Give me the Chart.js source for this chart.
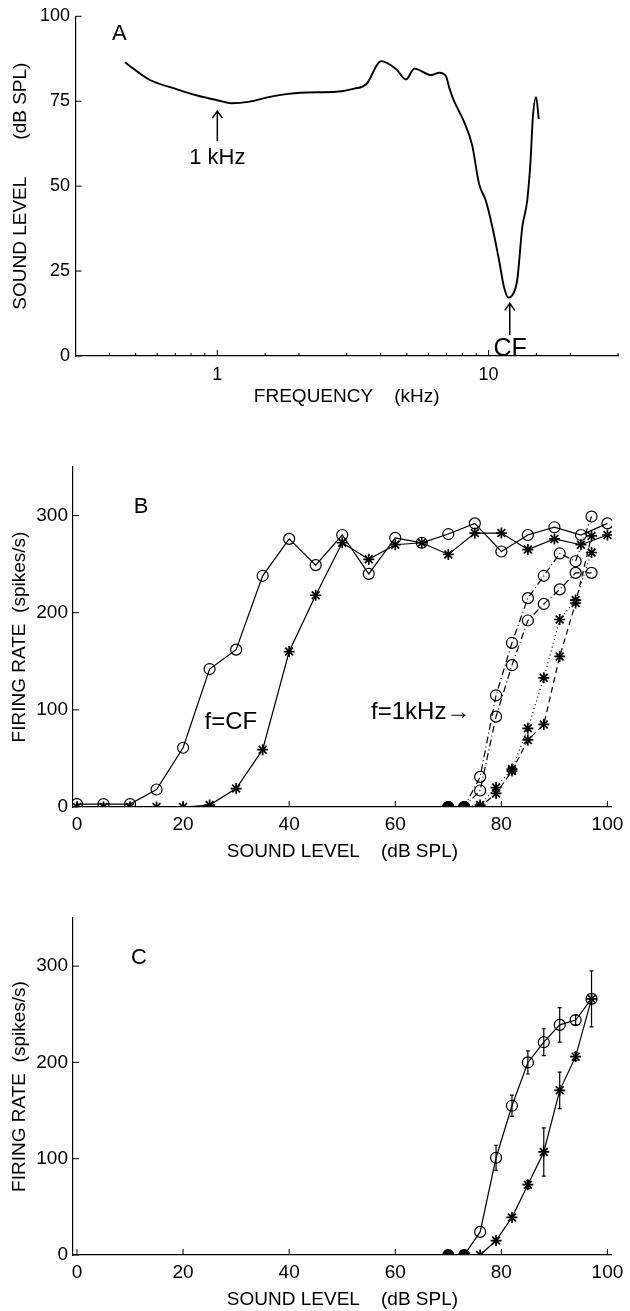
<!DOCTYPE html>
<html>
<head>
<meta charset="utf-8">
<script src="https://cdn.jsdelivr.net/npm/chart.js@4.4.1/dist/chart.umd.min.js"></script>
<style>
  html, body { margin: 0; padding: 0; background: #fff; }
  #wrap { position: relative; width: 630px; height: 1311px; }
  canvas { position: absolute; left: 0; }
</style>
</head>
<body>
<div id="wrap">
  <canvas id="panelA" width="630" height="420" style="top:0px"></canvas>
  <canvas id="panelB" width="630" height="460" style="top:420px"></canvas>
  <canvas id="panelC" width="630" height="431" style="top:880px"></canvas>
</div>
<script>
// panel A: threshold tuning curve (kHz, dB SPL)
const freqKHz = [0.456, 0.56, 0.71, 0.85, 1.0, 1.13, 1.3, 1.61, 2.02, 2.75, 3.2, 3.54, 4.02, 4.57, 4.96, 5.33,
  6.14, 6.58, 6.96, 7.16, 7.42, 8.2, 8.7, 9.23, 9.77, 10.33, 10.93, 11.4, 11.82, 12.23, 12.75, 13.31, 13.88,
  14.28, 14.56, 14.97, 15.31];
const thresholdDB = [86.5, 81.4, 78.5, 76.6, 75.3, 74.4, 74.8, 76.5, 77.5, 77.8, 78.7, 80.0, 86.8, 84.4, 81.4, 84.6,
  82.7, 83.4, 82.4, 79.0, 75.5, 68.2, 62.0, 50.6, 45.7, 37.9, 28.2, 20.3, 17.2, 17.9, 22.3, 37.9, 45.7,
  57.5, 70.2, 76.2, 69.7];
const freqTicks = [1, 10];
const levelTicksA = [0, 25, 50, 75, 100];

// panel B: rate-level functions, at CF and at 1 kHz
const levelsCF = [0, 5, 10, 15, 20, 25, 30, 35, 40, 45, 50, 55, 60, 65, 70, 75, 80, 85, 90, 95, 100];
const rateCFcirc = [3, 3, 3, 18, 61, 142, 162, 238, 276, 249, 280, 240, 277, 272, 281, 292, 263, 280, 288, 280, 292];
const rateCFstar = [0, 0, 0, 0, 0, 2, 19, 59, 160, 218, 272, 255, 270, 272, 260, 282, 282, 265, 276, 270, 280];
const levels1k = [70, 73, 76, 79, 82, 85, 88, 91, 94, 97];
const rate1kCircA = [0, 0, 31, 115, 169, 215, 238, 261, 253, 299];
const rate1kCircB = [0, 0, 17, 93, 146, 192, 209, 224, 241, 241];
const rate1kStarA = [0, 0, 2, 20, 39, 81, 133, 193, 213, 262];
const rate1kStarB = [0, 0, 0, 14, 37, 69, 85, 155, 210, 279];

// panel C: mean rate at 1 kHz with error bars
const levelsC = [70, 73, 76, 79, 82, 85, 88, 91, 94, 97];
const rateCcirc = [0, 0, 24, 101, 155, 200, 221, 239, 244, 266];
const errCcirc = [0, 0, 0, 13, 11, 12, 14, 18, 5, 29];
const rateCstar = [0, 0, 0, 15, 39, 73, 107, 171, 206, 266];
const errCstar = [0, 0, 0, 0, 0, 4, 25, 19, 4, 0];

const levelTicks = [0, 20, 40, 60, 80, 100];
const rateTicks = [0, 100, 200, 300];

const FONT = "'Liberation Sans', Arial, Helvetica, 'DejaVu Sans', sans-serif";
Chart.defaults.font.family = FONT;
Chart.defaults.color = '#000';

function pts(xs, ys) {
  return xs.map((x, i) => ({ x: x, y: ys[i] }));
}
function sp(n) {
  return '\u00a0'.repeat(n);
}

// short tick marks pointing into the plot, like the matlab figures
const inwardTicks = {
  id: 'inwardTicks',
  afterDraw(chart) {
    const ctx = chart.ctx;
    const { left, bottom } = chart.chartArea;
    const xs = chart.scales.x, ys = chart.scales.y;
    ctx.save();
    ctx.strokeStyle = '#000';
    ctx.lineWidth = 1;
    ctx.beginPath();
    xs.ticks.forEach(t => {
      const px = xs.getPixelForValue(t.value);
      const len = t.label !== '' ? 6 : 3;
      ctx.moveTo(px, bottom);
      ctx.lineTo(px, bottom - len);
    });
    ys.ticks.forEach(t => {
      const py = ys.getPixelForValue(t.value);
      ctx.moveTo(left, py);
      ctx.lineTo(left + 6, py);
    });
    ctx.stroke();
    ctx.restore();
  }
};

// letters, labels and arrows placed in data coordinates
const notes = {
  id: 'notes',
  afterDraw(chart, args, opts) {
    const ctx = chart.ctx, xs = chart.scales.x, ys = chart.scales.y;
    ctx.save();
    ctx.fillStyle = '#000';
    ctx.strokeStyle = '#000';
    ctx.textAlign = 'center';
    ctx.textBaseline = 'middle';
    (opts.texts || []).forEach(n => {
      ctx.font = n.size + 'px ' + FONT;
      ctx.fillText(n.text, xs.getPixelForValue(n.x), ys.getPixelForValue(n.y));
    });
    ctx.lineWidth = 1.5;
    (opts.arrows || []).forEach(a => {
      const px = xs.getPixelForValue(a.x);
      const top = ys.getPixelForValue(a.y1), bot = ys.getPixelForValue(a.y0);
      ctx.beginPath();
      ctx.moveTo(px, bot);
      ctx.lineTo(px, top);
      ctx.moveTo(px - 5, top + 7);
      ctx.lineTo(px, top);
      ctx.lineTo(px + 5, top + 7);
      ctx.stroke();
    });
    ctx.restore();
  }
};

// vertical error bars for datasets that carry an "errors" array
const errorBars = {
  id: 'errorBars',
  afterDatasetsDraw(chart) {
    const ctx = chart.ctx, ys = chart.scales.y;
    ctx.save();
    ctx.strokeStyle = '#000';
    ctx.lineWidth = 1.2;
    chart.data.datasets.forEach((ds, i) => {
      if (!ds.errors) return;
      const meta = chart.getDatasetMeta(i);
      meta.data.forEach((pt, j) => {
        const e = ds.errors[j];
        if (!e) return;
        const v = ds.data[j].y;
        const top = ys.getPixelForValue(v + e), bot = ys.getPixelForValue(v - e);
        ctx.beginPath();
        ctx.moveTo(pt.x, top); ctx.lineTo(pt.x, bot);
        ctx.moveTo(pt.x - 2, top); ctx.lineTo(pt.x + 2, top);
        ctx.moveTo(pt.x - 2, bot); ctx.lineTo(pt.x + 2, bot);
        ctx.stroke();
      });
    });
    ctx.restore();
  }
};

function circleSet(data, dash) {
  return {
    data: data,
    borderColor: '#000',
    borderWidth: 1.2,
    borderDash: dash || [],
    fill: false,
    tension: 0,
    pointStyle: 'circle',
    pointRadius: 5.5,
    pointBorderWidth: 1.2,
    pointBorderColor: '#000',
    pointBackgroundColor: c => (c.raw && c.raw.y < 1) ? '#000' : 'rgba(0,0,0,0)'
  };
}
function starSet(data, dash) {
  return {
    data: data,
    borderColor: '#000',
    borderWidth: 1.2,
    borderDash: dash || [],
    fill: false,
    tension: 0,
    pointStyle: 'star',
    pointRadius: 5.5,
    pointBorderWidth: 1.7,
    pointBorderColor: '#000'
  };
}

function axisCommon() {
  return {
    grid: { display: false, drawTicks: false },
    border: { display: true, color: '#000', width: 1.2 }
  };
}

function rateLevelOptions(top, xHeight, titleBottom, texts) {
  return {
    responsive: false,
    animation: false,
    events: [],
    layout: { padding: { top: top, right: 12, left: 0, bottom: 0 } },
    plugins: { legend: { display: false }, tooltip: { enabled: false }, notes: { texts: texts } },
    scales: {
      x: Object.assign(axisCommon(), {
        type: 'linear', min: -0.75, max: 100.85,
        afterBuildTicks: s => { s.ticks = levelTicks.map(v => ({ value: v })); },
        afterFit: s => { s.height = xHeight; },
        ticks: { padding: 6.6, maxRotation: 0, autoSkip: false, font: { size: 19 } },
        title: { display: true, text: 'SOUND LEVEL' + sp(4) + '(dB SPL)', font: { size: 19 }, padding: { bottom: titleBottom, top: 0 } }
      }),
      y: Object.assign(axisCommon(), {
        type: 'linear', min: 0, max: 350,
        afterBuildTicks: s => { s.ticks = rateTicks.map(v => ({ value: v })); },
        afterFit: s => { s.width = 73; },
        ticks: { padding: 5, font: { size: 19 } },
        title: { display: true, text: 'FIRING RATE' + sp(2) + '(spikes/s)', font: { size: 19 }, padding: { top: 8.6, bottom: 0 } }
      })
    }
  };
}

// panel A
new Chart(document.getElementById('panelA'), {
  type: 'line',
  data: {
    datasets: [{
      data: pts(freqKHz, thresholdDB),
      borderColor: '#000',
      borderWidth: 1.9,
      pointRadius: 0,
      fill: false,
      tension: 0.4,
      cubicInterpolationMode: 'monotone'
    }]
  },
  options: {
    responsive: false,
    animation: false,
    events: [],
    layout: { padding: { top: 15, right: 12, left: 0, bottom: 0 } },
    plugins: {
      legend: { display: false },
      tooltip: { enabled: false },
      notes: {
        texts: [
          { text: 'A', x: 0.435, y: 94.7, size: 22 },
          { text: '1 kHz', x: 1, y: 58.4, size: 22 },
          { text: 'CF', x: 12.0, y: 2.0, size: 25 }
        ],
        arrows: [
          { x: 1, y0: 63.3, y1: 72.1 },
          { x: 11.97, y0: 6.2, y1: 15.5 }
        ]
      }
    },
    scales: {
      x: Object.assign(axisCommon(), {
        type: 'logarithmic', min: 0.3, max: 30,
        afterFit: s => { s.height = 64; },
        ticks: {
          padding: 8, maxRotation: 0, autoSkip: false, font: { size: 18 },
          callback: v => freqTicks.includes(v) ? String(v) : ''
        },
        title: { display: true, text: 'FREQUENCY' + sp(4) + '(kHz)', font: { size: 19 }, padding: { bottom: 12, top: 0 } }
      }),
      y: Object.assign(axisCommon(), {
        type: 'linear', min: 0, max: 100,
        afterBuildTicks: s => { s.ticks = levelTicksA.map(v => ({ value: v })); },
        afterFit: s => { s.width = 75.5; },
        ticks: { padding: 5.5, font: { size: 18 } },
        title: { display: true, text: 'SOUND LEVEL' + sp(7) + '(dB SPL)', font: { size: 19 }, padding: { top: 9, bottom: 0 } }
      })
    }
  },
  plugins: [inwardTicks, notes]
});

// panel B
new Chart(document.getElementById('panelB'), {
  type: 'line',
  data: {
    datasets: [
      circleSet(pts(levelsCF, rateCFcirc)),
      starSet(pts(levelsCF, rateCFstar)),
      circleSet(pts(levels1k, rate1kCircA), [7, 3, 1, 3]),
      circleSet(pts(levels1k, rate1kCircB), [7, 3, 1, 3]),
      starSet(pts(levels1k, rate1kStarA), [1, 3]),
      starSet(pts(levels1k, rate1kStarB), [6, 4])
    ]
  },
  options: rateLevelOptions(47, 73, 16.6, [
    { text: 'B', x: 12.1, y: 309, size: 22 },
    { text: 'f=CF', x: 29, y: 87.5, size: 24 },
    { text: 'f=1kHz\u2192', x: 64.8, y: 97, size: 24 }
  ]),
  plugins: [inwardTicks, notes]
});

// panel C
const setCcirc = circleSet(pts(levelsC, rateCcirc));
setCcirc.errors = errCcirc;
const setCstar = starSet(pts(levelsC, rateCstar));
setCstar.errors = errCstar;
new Chart(document.getElementById('panelC'), {
  type: 'line',
  data: { datasets: [setCcirc, setCstar] },
  options: rateLevelOptions(38, 56, 0, [
    { text: 'C', x: 11.7, y: 309, size: 22 }
  ]),
  plugins: [inwardTicks, notes, errorBars]
});
</script>
</body>
</html>
